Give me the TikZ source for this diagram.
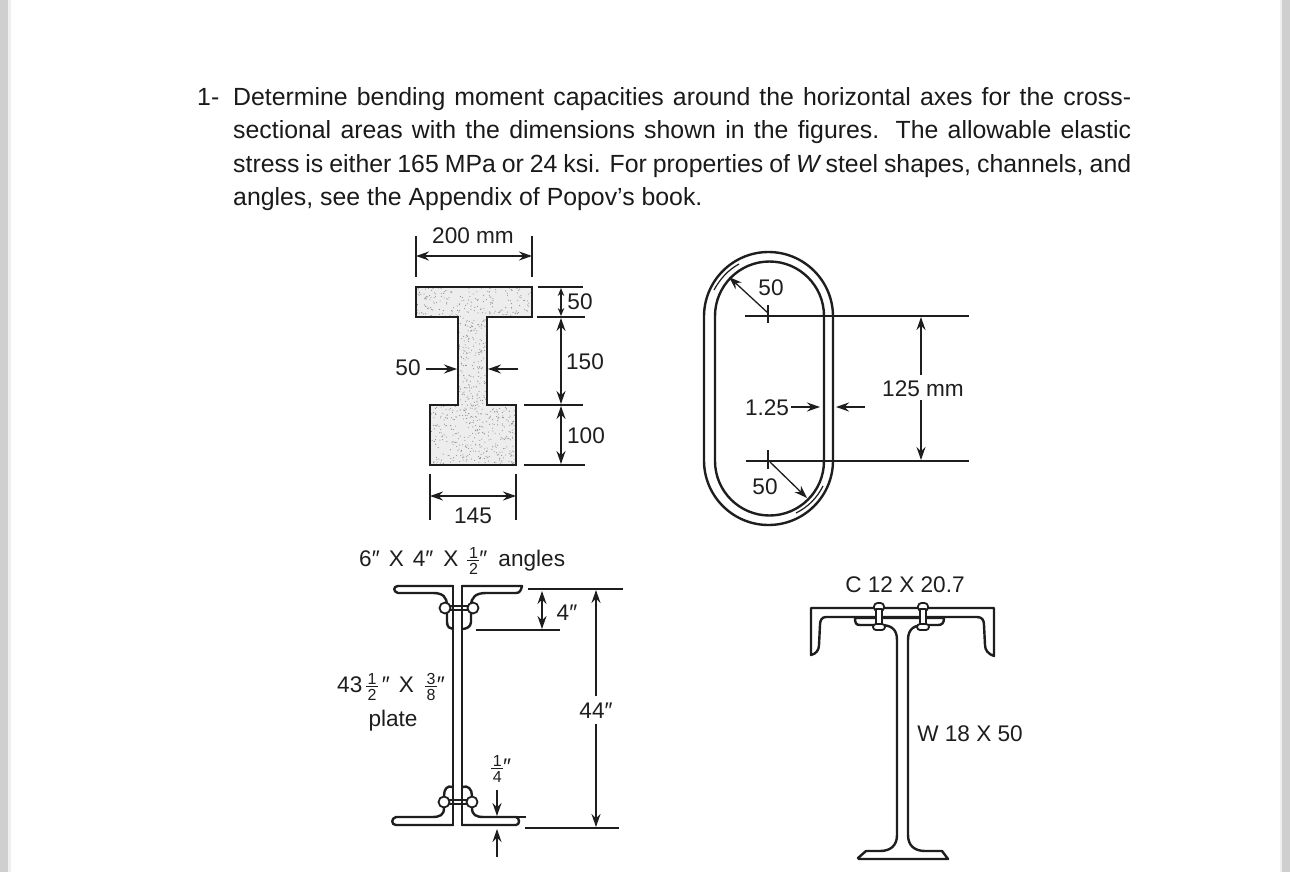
\documentclass[tikz,border=0pt]{standalone}
\usepackage{fontspec}
\setmainfont{Liberation Sans}
\usetikzlibrary{arrows.meta}
\newcommand{\fr}[2]{$\vcenter{\hbox{\fontsize{16}{16}\selectfont\vbox{\hbox to 12pt{\hss #1\hss}\kern2pt\hrule height .8pt\kern2.5pt\hbox to 12pt{\hss #2\hss}}}}$}
\newcommand{\tline}[1]{\makebox[898pt][s]{#1}}
\definecolor{ink}{HTML}{1E1E1E}
\definecolor{txt}{HTML}{1A1A1A}
\definecolor{strip}{HTML}{CFCFCF}
\definecolor{stripl}{HTML}{EFEFEF}
\tikzset{
  body/.style={anchor=base west,inner sep=0pt,text=txt,font=\fontsize{24.85}{30}\selectfont},
  lab/.style={inner sep=0pt,text=ink,font=\fontsize{22.6}{26}\selectfont},
  dim/.style={draw=ink,line width=1.3pt},
  dimarrow/.style={draw=ink,line width=1.3pt,-{Stealth[length=13pt,width=9pt]}},
  dimboth/.style={draw=ink,line width=1.3pt,{Stealth[length=13pt,width=9pt]}-{Stealth[length=13pt,width=9pt]}},
  dimsmall/.style={draw=ink,line width=1.3pt,{Stealth[length=8pt,width=6.5pt]}-{Stealth[length=8pt,width=6.5pt]}},
  heavy/.style={draw=ink,line width=2.4pt,line join=round,fill=white},
  mid/.style={draw=ink,line width=1.8pt,line join=round},
}
\begin{document}
\begin{tikzpicture}[x=1pt,y=-1pt]
\useasboundingbox (0,0) rectangle (1290,872);
\fill[white] (0,0) rectangle (1290,872);
\fill[strip] (0,0) rectangle (8,872);
\fill[stripl] (8,0) rectangle (10.5,872);
\fill[strip] (1282,0) rectangle (1290,872);
\fill[stripl] (1279.5,0) rectangle (1282,872);

% problem text
\node[body] (num) at (197,106) {1-};
\node[body] (l1) at (233,106) {\tline{Determine bending moment capacities around the horizontal axes for the cross-}};
\node[body] (l2) at (233,139) {\tline{sectional areas with the dimensions shown in the figures. The allowable elastic}};
\node[body] (l3) at (233,172) {\tline{stress is either 165 MPa or 24 ksi. For properties of \textit{W}\,steel shapes, channels, and}};
\node[body] (l4) at (233,205) {angles, see the Appendix of Popov’s book.};

% ---------- I section
\begin{scope}
\path[clip] (416,287) -- (532,287) -- (532,317) -- (487,317) -- (487,405) -- (516,405) -- (516,465) -- (430,465) -- (430,405) -- (458,405) -- (458,317) -- (416,317) -- cycle;
\fill[black!7] (410,280) rectangle (540,470);
\pgfmathsetseed{42}
\foreach \i in {1,...,1400}{
  \pgfmathsetmacro\px{473+58*rand}
  \pgfmathsetmacro\py{376+90*rand}
  \fill[black!45] (\px,\py) circle (.55pt);
}
\end{scope}
\draw[draw=ink,line width=2.4pt,line join=miter] (416,287) -- (532,287) -- (532,317) -- (487,317) -- (487,405) -- (516,405) -- (516,465) -- (430,465) -- (430,405) -- (458,405) -- (458,317) -- (416,317) -- cycle;
\draw[dim] (416,236) -- (416,277);
\draw[dim] (532,236) -- (532,277);
\draw[dimboth] (416,256) -- (532,256);
\node[lab] (t200) at (473,236) {200 mm};
\draw[dim] (430,474) -- (430,520);
\draw[dim] (516,474) -- (516,520);
\draw[dimboth] (430,496) -- (516,496);
\node[lab] (t145) at (473,516) {145};
\draw[dim] (538,287) -- (583,287);
\draw[dim] (537,317) -- (585,317);
\draw[dim] (524,405) -- (583,405);
\draw[dim] (524,465) -- (585,465);
\draw[dimsmall] (561,288) -- (561,316);
\draw[dimboth] (561,318) -- (561,404);
\draw[dimboth] (561,406) -- (561,464);
\node[lab] (t50a) at (580,302) {50};
\node[lab] (t150) at (585,362) {150};
\node[lab] (t100) at (586,436) {100};
\node[lab] (t50b) at (408,368) {50};
\draw[dimarrow] (426,369) -- (457,369);
\draw[dimarrow] (518,369) -- (488,369);

% ---------- oval
\draw[draw=ink,line width=2.4pt,rounded corners=64.5pt] (704,252) rectangle (833,525);
\draw[draw=ink,line width=2.4pt,rounded corners=54.5pt] (715,261.5) rectangle (824,515.5);
\draw[draw=ink,line width=1.2pt] (714,290) .. controls (720,279) and (728,270) .. (739,264);
\draw[draw=ink,line width=1.2pt] (796,513) .. controls (808,507) and (817,498) .. (823,486);
\draw[dim] (745,316) -- (969,316);
\draw[dim] (746,461) -- (969,461);
\draw[dim] (768,305) -- (768,323);
\draw[dim] (768,450) -- (768,469);
\draw[dimarrow] (768,313) -- (729,277);
\draw[dimarrow] (770,462) -- (807,498);
\node[lab] (t50c) at (771,288) {50};
\node[lab] (t50d) at (765,487) {50};
\node[lab] (t125) at (923,389) {125 mm};
\node[lab] (t125b) at (767,408) {1.25};
\draw[dimarrow] (791,407) -- (820,407);
\draw[dimarrow] (865,407) -- (836,407);
\draw[dimarrow] (921,375) -- (921,317);
\draw[dimarrow] (921,400) -- (921,460);

% ---------- plate girder
\draw[mid] (453,585) -- (453,826);
\draw[mid] (462,585) -- (462,826);
\draw[heavy] (453,586) -- (398,586) .. controls (393,586) and (393,592) .. (398,593) -- (433,593) .. controls (443,593) and (447,597) .. (447,606) -- (447,622) .. controls (447,627) and (450,629) .. (453,629);
\draw[heavy] (462,586) -- (522,586) .. controls (521,590) and (520,593) .. (516,593) -- (486,593) .. controls (476,593) and (471,597) .. (471,606) -- (471,622) .. controls (471,627) and (466,629) .. (462,629);
\draw[mid,fill=white] (445,608) circle (5.5pt);
\draw[mid,fill=white] (473,608) circle (5.5pt);
\draw[mid] (450,606) -- (468,606);
\draw[mid] (450,610) -- (468,610);
\draw[heavy] (453,787) .. controls (447,785) and (444,789) .. (444,796) -- (444,808) .. controls (444,815) and (440,817) .. (432,817) -- (396,817) .. controls (391,818) and (391,825) .. (396,825) -- (453,825);
\draw[heavy] (462,787) .. controls (468,785) and (472,789) .. (472,796) -- (472,808) .. controls (472,815) and (476,817) .. (484,817) -- (516,817) .. controls (520,818) and (520,825) .. (516,825) -- (462,825);
\draw[mid,fill=white] (444,802) circle (5.5pt);
\draw[mid,fill=white] (472,802) circle (5.5pt);
\draw[mid] (449,800) -- (467,800);
\draw[mid] (449,804) -- (467,804);
\draw[mid] (453,787) -- (453,826);
\draw[mid] (462,787) -- (462,826);
\draw[mid] (453,585) -- (453,629);
\draw[mid] (462,585) -- (462,629);
\draw[dim] (528,589) -- (623,589);
\draw[dim] (476,630) -- (560,630);
\draw[dim] (525,828) -- (619,828);
\draw[dim] (478,817) -- (526,817);
\draw[dimboth] (542,591) -- (542,629);
\draw[dimarrow] (596,696) -- (596,590);
\draw[dimarrow] (596,724) -- (596,827);
\draw[dimarrow] (497,790) -- (497,816);
\draw[dimarrow] (497,857) -- (497,829);
\node[lab] (t4) at (567,613) {4″};
\node[lab] (t44) at (596,711) {44″};
\node[lab,anchor=west] (angles) at (359,561) {6″\hspace{9pt}X\hspace{9pt}4″\hspace{10pt}X\hspace{9pt}\fr{1}{2}″\hspace{11pt}angles};
\node[lab,anchor=west] (plate1) at (337,687) {43\,\fr{1}{2}\,″\hspace{9pt}X\hspace{11pt}\fr{3}{8}″};
\node[lab] (plate2) at (393,721) {plate};
\node[lab,anchor=west] (quart) at (491,769) {\fr{1}{4}″};

% ---------- channel + W
\draw[heavy] (855,618) .. controls (855,623) and (856,625) .. (860,625) -- (880,625) .. controls (890,625) and (897,628) .. (897,640) -- (897,835) .. controls (897,846) and (890,851) .. (880,851) -- (866,851) -- (858,858) -- (859,859) -- (948,859) -- (942,851) -- (925,851) .. controls (915,851) and (908,846) .. (908,835) -- (908,640) .. controls (908,628) and (915,625) .. (925,625) -- (938,625) .. controls (942,625) and (944,623) .. (944,618) -- cycle;
\draw[heavy] (811,608) -- (994,608) -- (994,656) .. controls (988,654) and (985,650) .. (985,645) -- (984,625) .. controls (984,620) and (982,617) .. (977,617) -- (826,617) .. controls (822,617) and (820,620) .. (820,625) -- (819,645) .. controls (819,650) and (816,654) .. (811,655) -- cycle;
\foreach \bx/\nm in {879/a,923/b}{
  \draw[mid,fill=white,rounded corners=3.5pt] (\bx-5,603) rectangle (\bx+5,611);
  \draw[mid,fill=white] (\bx-3,609) rectangle (\bx+3,625);
  \draw[mid,fill=white,rounded corners=3pt] (\bx-6,624) rectangle (\bx+6,630);
}
\node[lab] (c12) at (905,585) {C 12 X 20.7};
\node[lab] (w18) at (970,734) {W 18 X 50};
\end{tikzpicture}
\end{document}
